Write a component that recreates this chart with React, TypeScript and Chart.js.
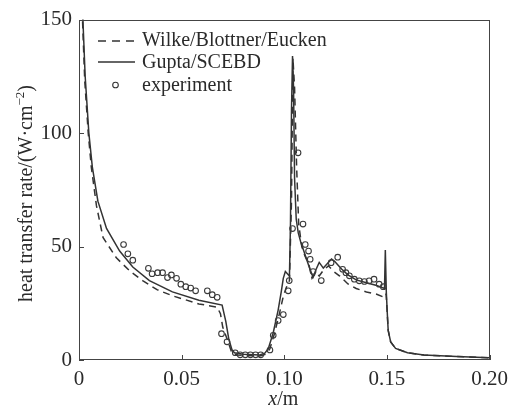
import React, { useEffect, useRef } from "react";
import { Chart, registerables } from "chart.js";

Chart.register(...registerables);

const FONT = '"Liberation Serif", "Times New Roman", serif';
const INK = "#2a2a2a";

const xTickValues = [0, 0.05, 0.1, 0.15, 0.2];
const xTickLabels = ["0", "0.05", "0.10", "0.15", "0.20"];
const yTickValues = [0, 50, 100, 150];
const yTickLabels = ["0", "50", "100", "150"];

const seriesNames = ["Wilke/Blottner/Eucken", "Gupta/SCEBD", "experiment"];

// Wilke/Blottner/Eucken (dashed)
const wilkeX = [
  0.0013, 0.0017, 0.0028, 0.0045, 0.006, 0.0085, 0.0117, 0.0182, 0.025, 0.031, 0.038, 0.0455,
  0.0584, 0.0673, 0.0689, 0.07, 0.0729, 0.0745, 0.077, 0.088, 0.091, 0.093, 0.095, 0.0975,
  0.0995, 0.101, 0.1025, 0.1035, 0.1042, 0.105, 0.106, 0.107, 0.1085, 0.11, 0.112, 0.1135,
  0.1155, 0.117, 0.119, 0.1215, 0.124, 0.127, 0.131, 0.135, 0.14, 0.145, 0.149, 0.1496, 0.1503,
  0.1506, 0.1518, 0.1542, 0.16, 0.168, 0.184, 0.2,
];
const wilkeY = [
  165, 150, 123, 100, 85, 68, 54, 45, 39, 35, 31, 28.3,
  24.7, 23.3, 20.4, 14.5, 7.3, 3, 2.2, 1.8, 2.5, 5, 11, 20,
  28, 32, 35, 70, 133, 120, 85, 60, 50, 46, 42, 36,
  38.5, 37, 39.5, 41.5, 39, 37, 33.5, 31.5, 30, 29, 27.5, 29, 18,
  13, 8, 5.1, 3.2, 2.2, 1.5, 1.0,
];

// Gupta/SCEBD (solid)
const guptaX = [
  0.0015, 0.0019, 0.003, 0.0048, 0.0065, 0.0092, 0.0134, 0.0198, 0.0262, 0.0343, 0.0455, 0.0584,
  0.0697, 0.0715, 0.073, 0.0745, 0.0757, 0.08, 0.088, 0.0905, 0.0922, 0.0946, 0.097, 0.0985,
  0.0995, 0.1005, 0.1015, 0.1025, 0.103, 0.1035, 0.104, 0.1045, 0.105, 0.1058, 0.1068, 0.108,
  0.1095, 0.111, 0.1125, 0.114, 0.1155, 0.117, 0.119, 0.121, 0.123, 0.1245, 0.126, 0.128, 0.131,
  0.135, 0.14, 0.145, 0.1488, 0.1492, 0.1497, 0.1503, 0.1506, 0.1518, 0.1542, 0.16, 0.168,
  0.184, 0.2,
];
const guptaY = [
  165, 150, 125, 100, 85, 70, 58, 48, 41, 35, 30, 26.3,
  24.2, 17, 9, 4.5, 3.2, 2.5, 2.2, 3, 5, 12, 22, 30,
  36, 39, 38, 37, 60, 110, 134, 120, 80, 62, 56, 52,
  48, 44, 40, 36.5, 40, 43, 40.5, 42.5, 44.5, 43.5, 42, 40, 37.5,
  35.3, 34, 32.8, 31.5, 48.5, 29.5, 18, 13, 8, 5.1, 3.2, 2.2,
  1.5, 1.0,
];

// experiment (circles)
const expX = [
  0.0217, 0.0238, 0.0262, 0.0338, 0.0356, 0.0383, 0.0407, 0.0431, 0.045, 0.0475, 0.0496, 0.052,
  0.0544, 0.0568, 0.0625, 0.0649, 0.0673, 0.0694, 0.0721, 0.0761, 0.0785, 0.081, 0.0835, 0.086,
  0.0885, 0.093, 0.0946, 0.097, 0.0995, 0.1019, 0.1024, 0.104, 0.1067, 0.1091, 0.1102, 0.1118,
  0.1126, 0.114, 0.118, 0.1228, 0.126, 0.1284, 0.13, 0.1317, 0.1341, 0.1365, 0.139, 0.1413,
  0.1437, 0.1462, 0.1482,
];
const expY = [
  50.9, 46.8, 44, 40.4, 38, 38.5, 38.5, 36.3, 37.5, 36, 33.4, 32.3,
  31.7, 30.5, 30.5, 28.8, 27.6, 11.6, 8, 3.2, 2.3, 2.3, 2.3, 2.3,
  2.3, 4.4, 10.9, 17.4, 20, 30.5, 35, 57.9, 91.3, 59.9, 50.9, 48,
  44.4, 39, 35, 42.9, 45.3, 40, 38.5, 37.1, 35.6, 34.9, 34.6, 34.9,
  35.6, 33.4, 32.3,
];

const zip = (xs: number[], ys: number[]) => xs.map((x, i) => ({ x, y: ys[i] }));

const decorPlugin = {
  id: "decor",
  afterDraw(chart: any) {
    const { ctx, chartArea: a, scales } = chart;
    const xs = scales.x;
    const ys = scales.y;
    ctx.save();
    // frame
    ctx.strokeStyle = "#444";
    ctx.lineWidth = 1;
    ctx.setLineDash([]);
    ctx.strokeRect(Math.round(a.left) + 0.5, Math.round(a.top) + 0.5, Math.round(a.right - a.left) - 1, Math.round(a.bottom - a.top) - 1);
    // inward ticks
    ctx.beginPath();
    xTickValues.forEach((v) => {
      const px = Math.round(xs.getPixelForValue(v)) + 0.5;
      ctx.moveTo(px, a.bottom);
      ctx.lineTo(px, a.bottom - 5);
    });
    yTickValues.forEach((v) => {
      const py = Math.round(ys.getPixelForValue(v)) + 0.5;
      ctx.moveTo(a.left, py);
      ctx.lineTo(a.left + 5, py);
    });
    ctx.stroke();

    // legend
    const lx0 = 98, lx1 = 135, tx = 142;
    const rows = [41, 62, 85];
    const baselines = [46, 67.5, 90.5];
    ctx.strokeStyle = "#333";
    ctx.lineWidth = 1.5;
    ctx.setLineDash([8, 6]);
    ctx.beginPath();
    ctx.moveTo(lx0, rows[0]);
    ctx.lineTo(lx1, rows[0]);
    ctx.stroke();
    ctx.setLineDash([]);
    ctx.beginPath();
    ctx.moveTo(lx0, rows[1]);
    ctx.lineTo(lx1, rows[1]);
    ctx.stroke();
    ctx.lineWidth = 1.1;
    ctx.beginPath();
    ctx.arc(115.5, rows[2], 2.8, 0, Math.PI * 2);
    ctx.stroke();
    ctx.fillStyle = INK;
    ctx.font = `20px ${FONT}`;
    ctx.textAlign = "left";
    ctx.textBaseline = "alphabetic";
    seriesNames.forEach((n, i) => ctx.fillText(n, tx, baselines[i]));

    // x title: italic x + /m
    ctx.font = `italic 20px ${FONT}`;
    const wX = ctx.measureText("x").width;
    ctx.font = `20px ${FONT}`;
    const wM = ctx.measureText("/m").width;
    const cx = (a.left + a.right) / 2 - 1;
    const sx = cx - (wX + wM) / 2;
    ctx.font = `italic 20px ${FONT}`;
    ctx.fillText("x", sx, 405);
    ctx.font = `20px ${FONT}`;
    ctx.fillText("/m", sx + wX, 405);

    // y title rotated
    ctx.translate(32, 302);
    ctx.rotate(-Math.PI / 2);
    const part1 = "heat transfer rate/(W·cm";
    const sup = "−2";
    const part3 = ")";
    ctx.font = `20px ${FONT}`;
    ctx.fillText(part1, 0, 0);
    let off = ctx.measureText(part1).width;
    ctx.font = `13px ${FONT}`;
    ctx.fillText(sup, off, -8);
    off += ctx.measureText(sup).width;
    ctx.font = `20px ${FONT}`;
    ctx.fillText(part3, off, 0);
    ctx.restore();
  },
};

export default function App() {
  const ref = useRef<HTMLCanvasElement | null>(null);
  useEffect(() => {
    if (!ref.current) return;
    const chart = new Chart(ref.current, {
      type: "scatter",
      data: {
        datasets: [
          {
            label: seriesNames[2],
            data: zip(expX, expY),
            showLine: false,
            pointStyle: "circle",
            pointRadius: 2.8,
            pointBorderWidth: 1.1,
            pointBorderColor: "#3a3a3a",
            pointBackgroundColor: "rgba(255,255,255,0)",
          },
          {
            label: seriesNames[1],
            data: zip(guptaX, guptaY),
            showLine: true,
            borderColor: "#333",
            borderWidth: 1.5,
            pointRadius: 0,
            tension: 0,
          },
          {
            label: seriesNames[0],
            data: zip(wilkeX, wilkeY),
            showLine: true,
            borderColor: "#333",
            borderWidth: 1.5,
            borderDash: [7, 5],
            pointRadius: 0,
            tension: 0,
          },
        ],
      },
      options: {
        responsive: false,
        animation: false,
        events: [],
        layout: { padding: { top: 16, right: 20, left: 0, bottom: 0 } },
        plugins: { legend: { display: false }, tooltip: { enabled: false }, title: { display: false } },
        scales: {
          x: {
            type: "linear",
            min: 0,
            max: 0.2,
            grid: { display: false, drawTicks: false },
            border: { display: false },
            afterBuildTicks: (s: any) => {
              s.ticks = xTickValues.map((v) => ({ value: v }));
            },
            afterFit: (s: any) => {
              s.height = 57;
            },
            ticks: {
              padding: 7,
              color: INK,
              font: { family: FONT, size: 21 },
              maxRotation: 0,
              autoSkip: false,
              callback: (v: any) => {
                const i = xTickValues.findIndex((t) => Math.abs(t - Number(v)) < 1e-9);
                return i >= 0 ? xTickLabels[i] : "";
              },
            },
          },
          y: {
            type: "linear",
            min: 0,
            max: 150,
            grid: { display: false, drawTicks: false },
            border: { display: false },
            afterBuildTicks: (s: any) => {
              s.ticks = yTickValues.map((v) => ({ value: v }));
            },
            afterFit: (s: any) => {
              s.width = 79;
            },
            ticks: {
              padding: 7,
              color: INK,
              font: { family: FONT, size: 21 },
              autoSkip: false,
              callback: (v: any) => {
                const i = yTickValues.findIndex((t) => Math.abs(t - Number(v)) < 1e-9);
                return i >= 0 ? yTickLabels[i] : "";
              },
            },
          },
        },
      },
      plugins: [decorPlugin],
    });
    return () => chart.destroy();
  }, []);
  return (
    <div style={{ position: "absolute", left: 0, top: 0, width: 515, height: 417, background: "#fff" }}>
      <canvas ref={ref} width={515} height={417} style={{ display: "block" }} />
    </div>
  );
}
